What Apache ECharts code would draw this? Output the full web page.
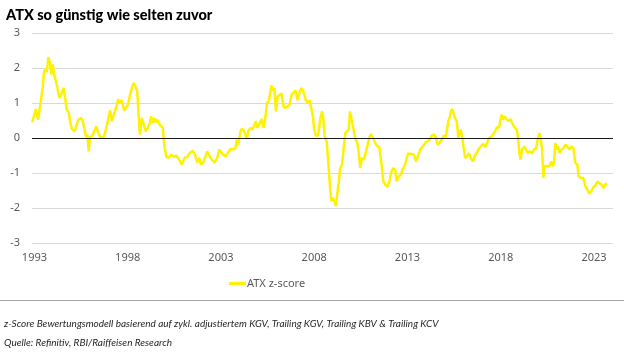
<!DOCTYPE html>
<html>
<head>
<meta charset="utf-8">
<script src="https://cdn.jsdelivr.net/npm/echarts@6/dist/echarts.min.js"></script>
<style>
html,body{margin:0;padding:0;background:#fff;}
#c{width:624px;height:355px;}
</style>
</head>
<body>
<div id="c"></div>
<script>
const chartTitle = 'ATX so günstig wie selten zuvor';
const seriesName = 'ATX z-score';
const xTickLabels = [1993, 1998, 2003, 2008, 2013, 2018, 2023];
const yTicks = [-3, -2, -1, 0, 1, 2, 3];
const footnotes = [
  'z-Score Bewertungsmodell basierend auf zykl. adjustiertem KGV, Trailing KGV, Trailing KBV & Trailing KCV',
  'Quelle: Refinitiv, RBI/Raiffeisen Research'
];

// decimal year of each reading
const dates = [
  1992.88,1993.07,1993.20,1993.30,1993.43,1993.52,1993.61,1993.66,1993.75,1993.84,1993.91,1993.98,
  1994.06,1994.16,1994.23,1994.34,1994.47,1994.56,1994.65,1994.73,1994.84,1994.91,
  1995.00,1995.07,1995.16,1995.25,1995.34,1995.49,1995.58,1995.66,1995.77,1995.84,1995.91,1995.99,
  1996.11,1996.20,1996.31,1996.42,1996.52,1996.63,1996.74,1996.88,
  1997.06,1997.15,1997.24,1997.36,1997.49,1997.58,1997.67,1997.81,
  1998.01,1998.15,1998.31,1998.40,1998.51,1998.58,1998.65,1998.76,1998.87,1998.97,
  1999.08,1999.19,1999.26,1999.35,1999.44,1999.53,1999.62,1999.71,1999.80,1999.88,1999.97,
  2000.08,2000.19,2000.33,2000.47,2000.60,2000.74,2000.90,
  2001.05,2001.19,2001.33,2001.49,2001.62,2001.73,2001.83,2001.94,
  2002.08,2002.26,2002.39,2002.51,2002.66,2002.80,2002.91,
  2003.01,2003.12,2003.25,2003.39,2003.53,2003.66,2003.78,2003.85,2003.93,
  2004.00,2004.07,2004.18,2004.28,2004.39,2004.46,2004.57,2004.68,2004.78,2004.87,2004.96,
  2005.07,2005.18,2005.29,2005.39,2005.46,2005.57,2005.64,2005.71,2005.79,2005.86,2005.95,
  2006.04,2006.14,2006.25,2006.36,2006.47,2006.57,2006.68,2006.79,2006.89,
  2007.00,2007.11,2007.22,2007.32,2007.43,2007.54,2007.65,2007.75,2007.86,2007.93,
  2008.00,2008.11,2008.22,2008.33,2008.43,2008.50,2008.56,2008.67,2008.77,2008.86,2008.92,
  2009.00,2009.09,2009.17,2009.24,2009.31,2009.38,2009.49,2009.59,2009.67,2009.76,2009.85,2009.92,
  2010.01,2010.11,2010.20,2010.31,2010.38,2010.47,2010.56,2010.67,2010.78,2010.88,2010.95,
  2011.03,2011.13,2011.24,2011.35,2011.49,2011.60,2011.71,2011.81,2011.92,
  2012.03,2012.13,2012.24,2012.35,2012.42,2012.53,2012.64,2012.74,2012.85,2012.96,
  2013.03,2013.14,2013.24,2013.35,2013.46,2013.62,2013.71,2013.83,2013.98,
  2014.08,2014.19,2014.30,2014.42,2014.51,2014.62,2014.73,2014.83,2014.94,
  2015.05,2015.12,2015.19,2015.28,2015.37,2015.44,2015.55,2015.64,2015.73,2015.78,2015.85,2015.93,
  2016.02,2016.09,2016.21,2016.30,2016.39,2016.52,2016.62,2016.73,2016.84,2016.95,
  2017.05,2017.16,2017.27,2017.37,2017.48,2017.59,2017.70,2017.80,2017.91,2017.98,
  2018.05,2018.12,2018.20,2018.30,2018.41,2018.52,2018.63,2018.73,2018.86,2018.93,
  2019.00,2019.07,2019.14,2019.27,2019.36,2019.45,2019.57,2019.68,2019.79,2019.90,
  2020.00,2020.07,2020.15,2020.22,2020.29,2020.36,2020.47,2020.61,2020.72,2020.79,2020.86,2020.93,
  2021.00,2021.08,2021.15,2021.25,2021.36,2021.47,2021.58,2021.68,2021.79,2021.90,
  2022.00,2022.11,2022.18,2022.29,2022.43,2022.54,2022.65,2022.76,2022.86,2022.97,
  2023.08,2023.18,2023.29,2023.40,2023.51,2023.58,2023.70
];

// ATX z-score readings
const zScores = [
  0.45,0.83,0.52,0.48,1.38,1.90,1.97,1.88,2.31,2.14,1.81,2.10,
  1.81,1.62,1.59,1.14,1.30,1.43,1.14,0.81,0.73,0.48,
  0.27,0.31,0.19,0.21,0.50,0.57,0.50,0.33,0.03,0.10,-0.38,0.03,
  0.07,0.10,0.33,0.16,0.03,0.00,0.05,0.35,
  0.79,0.48,0.45,0.83,1.11,1.00,1.08,0.79,
  0.95,1.29,1.57,1.50,1.33,0.71,0.10,0.57,0.38,0.19,
  0.29,0.43,0.62,0.43,0.57,0.45,0.52,0.38,0.43,0.29,-0.24,
  -0.54,-0.57,-0.48,-0.54,-0.50,-0.60,-0.76,
  -0.57,-0.54,-0.43,-0.36,-0.50,-0.70,-0.57,-0.76,
  -0.67,-0.38,-0.52,-0.62,-0.70,-0.57,-0.33,
  -0.41,-0.48,-0.52,-0.41,-0.31,-0.33,-0.29,-0.05,-0.19,
  0.03,0.24,0.26,0.14,-0.03,0.19,0.29,0.24,0.35,0.48,0.29,
  0.41,0.54,0.29,0.62,1.00,1.05,1.29,1.50,1.36,1.43,0.76,
  1.19,1.21,1.27,0.90,0.86,0.89,0.95,1.24,1.27,
  1.36,1.08,1.31,1.43,1.31,1.10,1.00,1.08,0.81,0.62,
  0.24,0.05,0.10,0.57,0.76,0.48,0.05,-0.10,-0.81,-1.48,-1.81,
  -1.71,-1.81,-1.95,-1.57,-1.29,-0.90,-0.76,-0.24,0.14,0.19,0.24,0.76,
  0.52,0.48,0.00,-0.14,-0.38,-0.86,-0.57,-0.62,-0.38,-0.33,0.00,
  0.12,0.03,-0.10,-0.22,-0.26,-0.71,-1.24,-1.33,-1.40,
  -1.24,-0.98,-0.86,-0.92,-1.24,-1.10,-1.05,-0.90,-0.81,-0.57,
  -0.45,-0.45,-0.50,-0.48,-0.67,-0.43,-0.31,-0.24,-0.12,
  -0.16,-0.05,0.07,0.10,0.03,-0.19,-0.14,-0.05,0.07,
  0.03,0.24,0.48,0.62,0.83,0.76,0.57,0.48,0.00,-0.05,0.24,0.03,
  -0.29,-0.57,-0.52,-0.43,-0.57,-0.67,-0.50,-0.41,-0.29,-0.24,
  -0.16,-0.26,-0.14,0.00,0.03,0.10,0.19,0.31,0.29,0.50,
  0.67,0.52,0.62,0.57,0.48,0.54,0.41,0.31,0.24,0.00,
  -0.43,-0.62,-0.33,-0.24,-0.19,-0.43,-0.38,-0.45,-0.33,-0.29,
  0.00,0.14,-0.05,-0.33,-1.14,-0.81,-0.79,-0.81,-0.67,-0.81,-0.71,-0.14,
  -0.33,-0.24,-0.43,-0.33,-0.29,-0.19,-0.26,-0.33,-0.24,-0.29,
  -0.71,-0.76,-1.10,-1.14,-1.14,-1.38,-1.48,-1.59,-1.52,-1.40,
  -1.36,-1.24,-1.29,-1.33,-1.43,-1.33,-1.30
];

const lineData = dates.map((d, i) => [d, zScores[i]]);
const axisFont = '"Noto Sans", "DejaVu Sans", sans-serif';

const chart = echarts.init(document.getElementById('c'), null, {renderer: 'canvas'});
chart.setOption({
  animation: false,
  backgroundColor: '#ffffff',
  title: {
    text: chartTitle,
    left: 1, top: 3,
    textStyle: {fontFamily: 'Lato, sans-serif', fontWeight: 900, fontSize: 14.5, color: '#000000'}
  },
  grid: {left: 32, right: 11, top: 33, bottom: 112, containLabel: false},
  legend: {
    data: [seriesName],
    top: 273, left: 224,
    itemWidth: 17, itemHeight: 3, itemGap: 4,
    icon: 'rect',
    textStyle: {fontFamily: axisFont, fontSize: 11, color: '#595959', padding: [0,0,0,-4]}
  },
  xAxis: {
    type: 'value',
    min: 1992.87, max: 2024.02,
    axisLine: {show: false},
    axisTick: {show: false},
    splitLine: {show: false},
    axisLabel: {
      customValues: xTickLabels,
      formatter: v => String(Math.round(v)),
      color: '#595959', fontFamily: axisFont, fontSize: 11, margin: 9
    }
  },
  yAxis: {
    type: 'value',
    min: -3, max: 3, interval: 1,
    axisLine: {show: false},
    axisTick: {show: false},
    axisLabel: {color: '#595959', fontFamily: axisFont, fontSize: 11, margin: 12},
    splitLine: {lineStyle: {color: '#d9d9d9', width: 1}}
  },
  series: [{
    name: seriesName,
    type: 'line',
    data: lineData,
    showSymbol: false,
    symbol: 'none',
    lineStyle: {color: '#fff200', width: 2.5},
    itemStyle: {color: '#fff200'},
    markLine: {
      silent: true, symbol: 'none', label: {show: false},
      lineStyle: {color: '#1a1a1a', width: 1, type: 'solid'},
      data: [{yAxis: 0}]
    },
    z: 3
  }],
  graphic: [
    {type: 'line', shape: {x1: 0, y1: 300.5, x2: 624, y2: 300.5}, style: {stroke: '#a6a6a6', lineWidth: 1}},
    {type: 'text', left: 4, top: 319, style: {text: footnotes[0], font: 'italic 10px Lato, sans-serif', fill: '#262626'}},
    {type: 'text', left: 4, top: 338, style: {text: footnotes[1], font: 'italic 10px Lato, sans-serif', fill: '#262626'}}
  ]
});
</script>
</body>
</html>
